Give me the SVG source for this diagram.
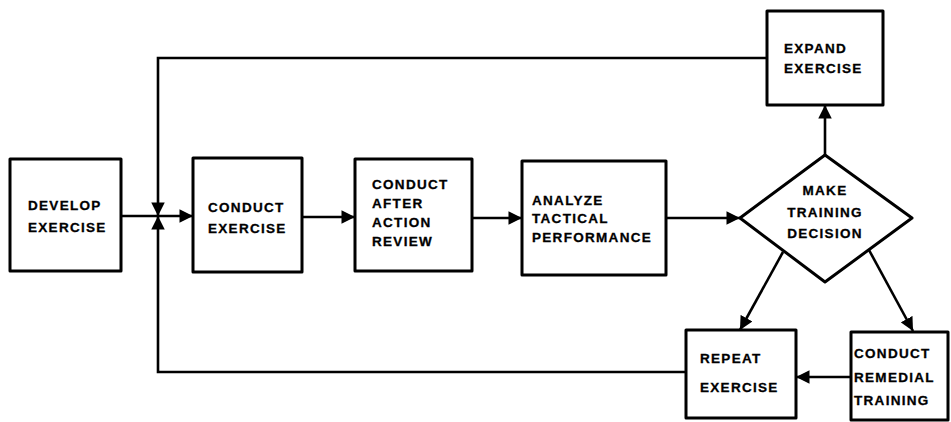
<svg xmlns="http://www.w3.org/2000/svg" width="951" height="422" viewBox="0 0 951 422">
<style>
.box{fill:#fff;stroke:#000;stroke-width:3;stroke-linejoin:round}
.ln{fill:none;stroke:#000;stroke-width:2.6}
text{font-family:"Liberation Sans",Arial,sans-serif;font-weight:bold;font-size:13.5px;letter-spacing:1.3px;fill:#000;stroke:#000;stroke-width:0.3}
</style>
<defs>
<marker id="ah" viewBox="0 0 10 10" refX="10" refY="5" markerWidth="5.2" markerHeight="5.2" orient="auto" markerUnits="strokeWidth">
<path d="M0,0 L10,5 L0,10 z" fill="#000"/>
</marker>
</defs>
<rect width="951" height="422" fill="#fff"/>
<g id="connectors">
<line class="ln" x1="121" y1="216" x2="158" y2="216"/>
<line class="ln" x1="158" y1="216" x2="193" y2="216" marker-end="url(#ah)"/>
<polyline class="ln" points="767,58 158,58 158,216" marker-end="url(#ah)"/>
<polyline class="ln" points="686,372 158,372 158,216" marker-end="url(#ah)"/>
<line class="ln" x1="302" y1="217" x2="355" y2="217" marker-end="url(#ah)"/>
<line class="ln" x1="472" y1="218" x2="522" y2="218" marker-end="url(#ah)"/>
<line class="ln" x1="666" y1="218" x2="740" y2="218" marker-end="url(#ah)"/>
<line class="ln" x1="825" y1="155" x2="825" y2="105" marker-end="url(#ah)"/>
<line class="ln" x1="783" y1="252" x2="740" y2="330" marker-end="url(#ah)"/>
<line class="ln" x1="869" y1="250" x2="913" y2="331" marker-end="url(#ah)"/>
<line class="ln" x1="851" y1="377" x2="796" y2="377" marker-end="url(#ah)"/>
</g>
<g id="develop">
<rect class="box" x="10" y="159" width="111" height="112"/>
<text x="28" y="210">DEVELOP</text>
<text x="28" y="232">EXERCISE</text>
</g>
<g id="conduct">
<rect class="box" x="193" y="158" width="109" height="114"/>
<text x="208" y="212">CONDUCT</text>
<text x="208" y="233">EXERCISE</text>
</g>
<g id="aar">
<rect class="box" x="355" y="159" width="117" height="112"/>
<text x="372" y="189">CONDUCT</text>
<text x="372" y="208">AFTER</text>
<text x="372" y="227">ACTION</text>
<text x="372" y="246">REVIEW</text>
</g>
<g id="analyze">
<rect class="box" x="522" y="161" width="144" height="114"/>
<text x="532" y="205">ANALYZE</text>
<text x="532" y="223">TACTICAL</text>
<text x="532" y="242">PERFORMANCE</text>
</g>
<g id="decision">
<polygon class="box" points="740,218 825,155 912,218 825,282"/>
<text x="825" y="195" text-anchor="middle" font-size="12px">MAKE</text>
<text x="825" y="217" text-anchor="middle">TRAINING</text>
<text x="825" y="238" text-anchor="middle">DECISION</text>
</g>
<g id="expand">
<rect class="box" x="767" y="11" width="116" height="94"/>
<text x="784" y="53">EXPAND</text>
<text x="784" y="73">EXERCISE</text>
</g>
<g id="repeat">
<rect class="box" x="686" y="330" width="110" height="88"/>
<text x="700" y="363">REPEAT</text>
<text x="700" y="392">EXERCISE</text>
</g>
<g id="remedial">
<rect class="box" x="851" y="332" width="97" height="88"/>
<text x="854" y="358">CONDUCT</text>
<text x="854" y="382">REMEDIAL</text>
<text x="854" y="405">TRAINING</text>
</g>
</svg>
